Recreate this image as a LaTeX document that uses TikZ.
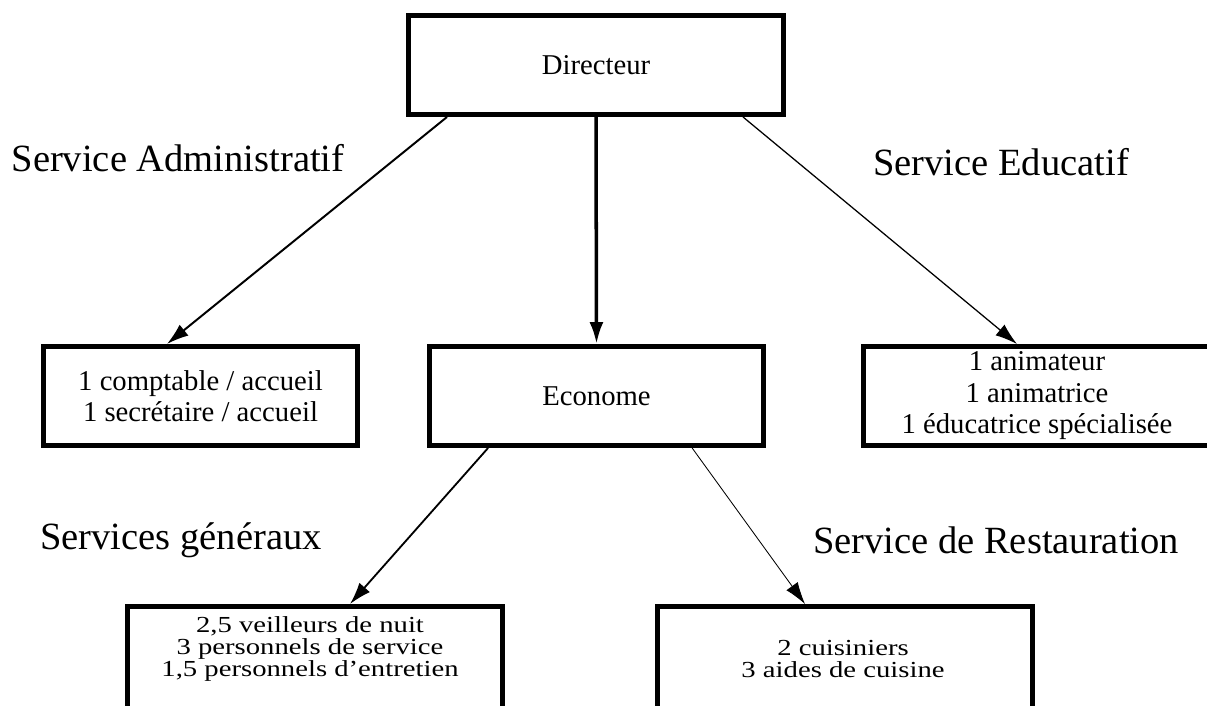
\documentclass[tikz,border=0pt]{standalone}
\usepackage{fontspec}
\setmainfont{Liberation Serif}
\usetikzlibrary{arrows.meta}

\begin{document}
\begin{tikzpicture}[x=0.025cm,y=-0.025cm,
  box/.style={draw=black,line width=3.5pt,rectangle,inner sep=0pt,font=\fontsize{20.4}{22.4}\selectfont,align=center},
  boxtext/.style={font=\fontsize{20.4}{19.5}\selectfont,align=center,yscale=0.8,transform shape},
  lbl/.style={font=\fontsize{27.4}{30}\selectfont},
  arr/.style={-{Latex[length=0.55cm,width=0.35cm]}}]
\useasboundingbox (0,0) rectangle (1207,705);
\clip (0,0) rectangle (1207,705);

\node[box,minimum width=9.375cm,minimum height=2.475cm] (dir) at (596,65) {Directeur};
\node[box,minimum width=7.85cm,minimum height=2.475cm] (compta) at (200.5,396) {1 comptable / accueil\\1 secrétaire / accueil};
\node[box,minimum width=8.35cm,minimum height=2.475cm] (eco) at (596.5,396) {Econome};
\node[box,minimum width=8.675cm,minimum height=2.475cm] (edu) at (1037,396) {1 animateur\\1 animatrice\\1 éducatrice spécialisée};
\node[box,anchor=north,minimum width=9.375cm,minimum height=5cm] (gen) at (315,604) {};
\node[box,anchor=north,minimum width=9.375cm,minimum height=5cm] (rest) at (845,604) {};
\node[boxtext] (gentxt) at (310,649) {2,5 veilleurs de nuit\\3 personnels de service\\1,5 personnels d'entretien};
\node[boxtext] (resttxt) at (843,659) {2 cuisiniers\\3 aides de cuisine};

\node[lbl] (adm) at (178,158) {Service Administratif};
\node[lbl] (educ) at (1001,162) {Service Educatif};
\node[lbl] (gener) at (181,540) {Services généraux};
\node[lbl] (resto) at (996,540) {Service de Restauration};

\draw[arr,line width=1.4pt] ([xshift=1.025cm]dir.south west) -- ([xshift=-0.84cm]compta.north);
\draw[arr,line width=2.5pt] (dir.south) -- (eco.north);
\draw[arr,line width=0.9pt] ([xshift=-1.075cm]dir.south east) -- ([xshift=-0.5cm]edu.north);
\draw[arr,line width=1.3pt] ([xshift=-2.71cm]eco.south) -- ([xshift=0.875cm]gen.north);
\draw[arr,line width=0.6pt] ([xshift=2.39cm]eco.south) -- ([xshift=-1cm]rest.north);

\end{tikzpicture}
\end{document}
